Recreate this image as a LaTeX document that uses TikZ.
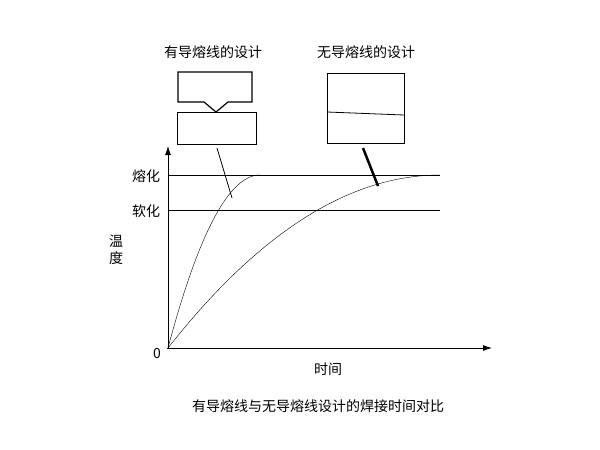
\documentclass[tikz,border=0pt]{standalone}
\usepackage{fontspec}
\setmainfont{Noto Sans CJK SC}
\usetikzlibrary{arrows.meta}

\begin{document}
\begin{tikzpicture}[x=1pt, y=-1pt, font=\fontsize{14}{16}\selectfont]
        \useasboundingbox (0,0) rectangle (600,450);
        
        \draw [-{Latex[length=9pt,width=6pt]}, thick] (168, 349) -- (168, 146); 
        \draw [-{Latex[length=9pt,width=6pt]}, thick] (167, 348) -- (492, 348); 
        
        \draw [thick] (168,175) -- (440,175);
        \draw [thick] (168,210) -- (440,210);
        
        \draw [domain=0:1, samples=50] plot (168+92*\x, {348-173*(1-(1-\x)^2)});
        \draw [domain=0:1, samples=50] plot (168+272*\x, {348-173*(1-(1-\x)^2)});
        
        \node (melt) at (146,176) {熔化};
        \node (soft) at (146,211) {软化};
        \node (temp) [align=center, font=\fontsize{14}{17}\selectfont] at (116,250) {温\\度};
        \node (zero) at (157,354) {0};
        \node (time) at (328,369) {时间};
        \node (caption) at (318,406) {有导熔线与无导熔线设计的焊接时间对比};
        
        \node (titleA) at (213,52) {有导熔线的设计};
        \node (titleB) at (366,52) {无导熔线的设计};
        
        \draw [very thick] (178,72) -- (252,72) -- (252,102) -- (228,102) -- (216,112) -- (204,102) -- (178,102) -- cycle;
        \draw (177,112) rectangle (256,144);
        \draw (327,73) rectangle (404,143);
        \draw [thick] (327,112) -- (404,115);
        
        \draw [thick] (217,148) -- (232,198);
        \draw [line width=2.5pt] (363,148) -- (378,186);
    \end{tikzpicture}
\end{document}
